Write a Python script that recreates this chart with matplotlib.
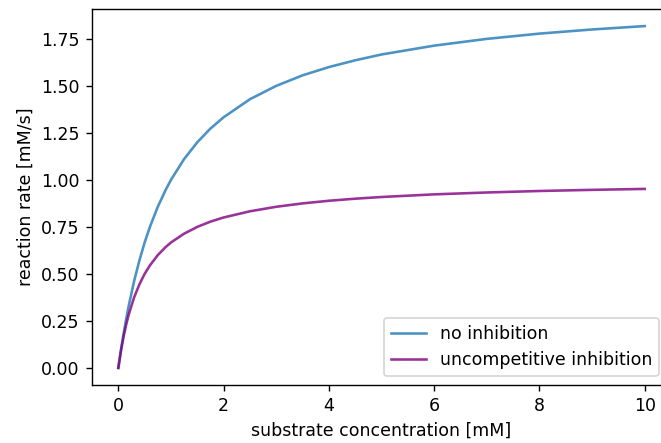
import matplotlib
matplotlib.use('Agg')
import matplotlib.pyplot as plt

# substrate concentration [mM]
substrate = [0, 0.05, 0.1, 0.15, 0.2, 0.3, 0.4, 0.5, 0.6, 0.75, 0.9, 1, 1.25, 1.5, 1.75,
             2, 2.5, 3, 3.5, 4, 4.5, 5, 6, 7, 8, 9, 10]

# reaction rates [mM/s]
no_inhibition = [0, 0.095, 0.182, 0.261, 0.333, 0.462, 0.571, 0.667, 0.750, 0.857, 0.947,
                 1.000, 1.111, 1.200, 1.273, 1.333, 1.429, 1.500, 1.556, 1.600,
                 1.636, 1.667, 1.714, 1.750, 1.778, 1.800, 1.818]
uncompetitive = [0, 0.091, 0.167, 0.231, 0.286, 0.375, 0.444, 0.500, 0.545, 0.600, 0.643,
                 0.667, 0.714, 0.750, 0.778, 0.800, 0.833, 0.857, 0.875, 0.889,
                 0.900, 0.909, 0.923, 0.933, 0.941, 0.947, 0.952]

dpi = 125
fig = plt.figure(figsize=(661 / dpi, 443 / dpi), dpi=dpi)
# the right spine sits just outside the saved picture
ax = fig.add_axes([92 / 661, (443 - 385) / 443, 579 / 661, 376 / 443])

ax.plot(substrate, no_inhibition, color='tab:blue', alpha=0.8, label='no inhibition')
ax.plot(substrate, uncompetitive, color='purple', alpha=0.8, label='uncompetitive inhibition')

ax.set_xlabel('substrate concentration [mM]')
ax.set_ylabel('reaction rate [mM/s]')
ax.legend(loc='lower right', bbox_to_anchor=(0.994, 0.0))

fig.savefig('out.png', dpi=dpi)
